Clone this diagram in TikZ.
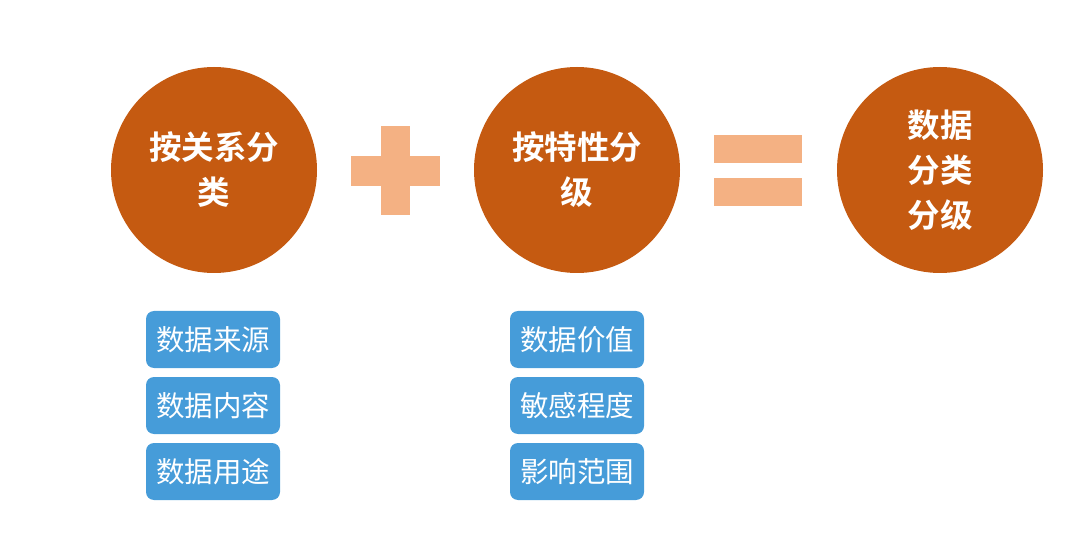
\documentclass[tikz,border=0pt]{standalone}
\usepackage{fontspec}
\newfontfamily\cjk{Noto Sans CJK SC}
\newfontfamily\cjkb{Noto Sans CJK SC Bold}
\definecolor{circ}{HTML}{C55A11}
\definecolor{sign}{HTML}{F4B183}
\definecolor{boxblue}{HTML}{469CD9}
\begin{document}
\begin{tikzpicture}[x=1pt,y=-1pt,
  bigc/.style={circle,fill=circ,minimum size=206pt,inner sep=0pt,text=white,align=center,
    font=\cjkb\fontsize{32.5}{45}\selectfont},
  tag/.style={rounded corners=8pt,fill=boxblue,minimum width=134pt,minimum height=57pt,
    inner sep=0pt,text=white,font=\cjk\fontsize{28.5}{30}\selectfont},
  signpart/.style={fill=sign}]
\useasboundingbox (0,0) rectangle (1080,540);
\node[bigc] (c1) at (214,170) {按关系分\\类};
\node[bigc] (c2) at (577,170) {按特性分\\级};
\node[bigc] (c3) at (940,170) {数据\\分类\\分级};
% plus
\fill[signpart] (351,156) rectangle (440,186);
\fill[signpart] (381,126) rectangle (410,215);
% equals
\fill[signpart] (714,135) rectangle (802,163);
\fill[signpart] (714,178) rectangle (802,206);
% tags
\node[tag] (a1) at (213,339.5) {数据来源};
\node[tag] (a2) at (213,405.5) {数据内容};
\node[tag] (a3) at (213,471.5) {数据用途};
\node[tag] (b1) at (577,339.5) {数据价值};
\node[tag] (b2) at (577,405.5) {敏感程度};
\node[tag] (b3) at (577,471.5) {影响范围};
\end{tikzpicture}
\end{document}
